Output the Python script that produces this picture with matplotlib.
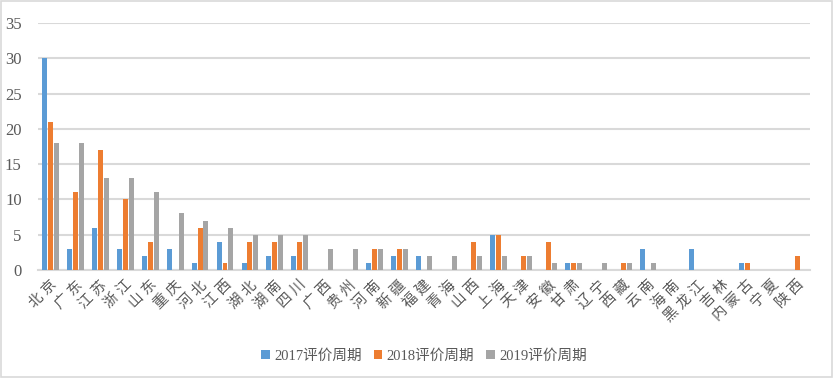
import numpy as np
import matplotlib.pyplot as plt

plt.rcParams['font.family'] = ['Liberation Serif', 'Noto Sans CJK SC', 'DejaVu Sans']

provinces = ["北京", "广东", "江苏", "浙江", "山东", "重庆", "河北", "江西", "湖北", "湖南",
             "四川", "广西", "贵州", "河南", "新疆", "福建", "青海", "山西", "上海", "天津",
             "安徽", "甘肃", "辽宁", "西藏", "云南", "海南", "黑龙江", "吉林", "内蒙古", "宁夏", "陕西"]
y2017 = [30, 3, 6, 3, 2, 3, 1, 4, 1, 2, 2, 0, 0, 1, 2, 2, 0, 0, 5, 0, 0, 1, 0, 0, 3, 0, 3, 0, 1, 0, 0]
y2018 = [21, 11, 17, 10, 4, 0, 6, 1, 4, 4, 4, 0, 0, 3, 3, 0, 0, 4, 5, 2, 4, 1, 0, 1, 0, 0, 0, 0, 1, 0, 2]
y2019 = [18, 18, 13, 13, 11, 8, 7, 6, 5, 5, 5, 3, 3, 3, 3, 2, 2, 2, 2, 2, 1, 1, 1, 1, 1, 0, 0, 0, 0, 0, 0]
series_names = ["2017评价周期", "2018评价周期", "2019评价周期"]
colors = ["#5B9BD5", "#ED7D31", "#A5A5A5"]

fig = plt.figure(figsize=(8.34, 3.78), dpi=100)
ax = fig.add_axes([0.046, 0.286, 0.925, 0.653])

x = np.arange(len(provinces))
w = 0.2
for i, (vals, name, c) in enumerate(zip([y2017, y2018, y2019], series_names, colors)):
    ax.bar(x + (i - 1) * 0.235, vals, width=w, color=c, label=name, zorder=3)

ax.set_xlim(-0.5, len(provinces) - 0.5)
ax.set_ylim(0, 35)
ax.set_yticks(range(0, 36, 5))
ax.yaxis.grid(True, color="#D9D9D9", linewidth=1.5, zorder=0)
for s in ["top", "right", "left"]:
    ax.spines[s].set_visible(False)
ax.spines["bottom"].set_color("#D9D9D9")
ax.spines["bottom"].set_linewidth(1.5)
ax.tick_params(axis="both", length=0, colors="#595959", labelsize=12)
ax.tick_params(axis="y", pad=12)
ax.tick_params(axis="x", pad=6)
ax.set_xticks(x)
# spread characters a little, like the original label font
ax.set_xticklabels([" ".join(p) for p in provinces], rotation=45, ha="right",
                   rotation_mode="anchor", fontsize=10.5)

ax.legend(loc="lower center", bbox_to_anchor=(0.5, -0.43), ncol=3, frameon=False,
          fontsize=10.5, handlelength=0.6, handleheight=0.6, handletextpad=0.3,
          columnspacing=0.8, labelcolor="#595959")

fig.patches.append(plt.Rectangle((0.001, 0.002), 0.997, 0.995, transform=fig.transFigure,
                                 fill=False, edgecolor="#D9D9D9", linewidth=1.2))

fig.savefig("out.png", dpi=100)
